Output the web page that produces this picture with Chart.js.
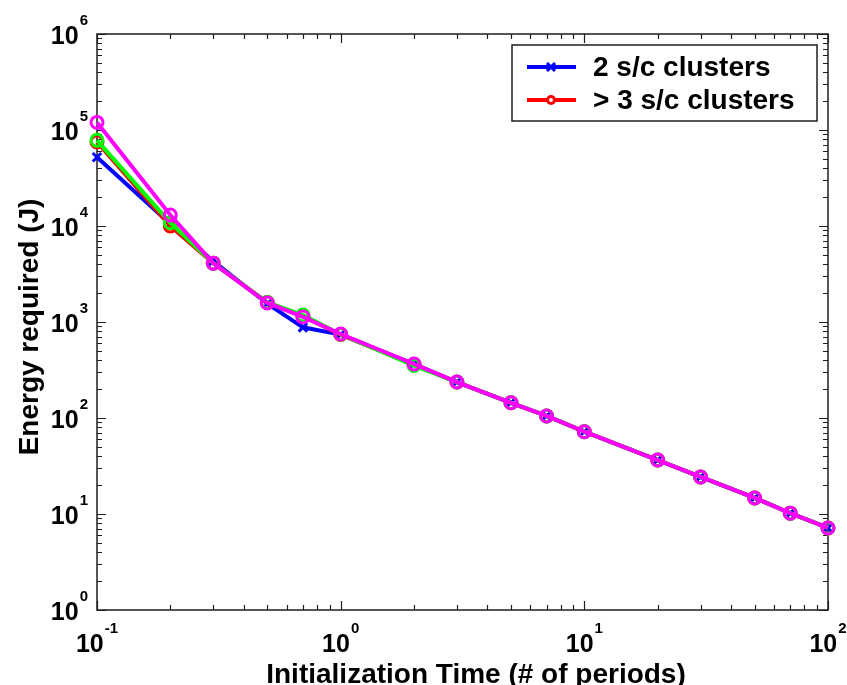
<!DOCTYPE html>
<html>
<head>
<meta charset="utf-8">
<title>Energy vs initialization time</title>
<script src="https://cdn.jsdelivr.net/npm/chart.js@4.4.1/dist/chart.umd.min.js"></script>
<style>
  html, body { margin: 0; padding: 0; background: #fff; }
  #wrap { width: 847px; height: 685px; position: relative; }
</style>
</head>
<body>
<div id="wrap"><canvas id="energyChart"></canvas></div>
<script>
// initialization time in orbital periods
const initTimes = [0.1, 0.2, 0.3, 0.5, 0.7, 1, 2, 3, 5, 7, 10, 20, 30, 50, 70, 100];

// energy required (J) for each cluster configuration
const energyTwoSc = [52000, 10500, 4300, 1550, 880, 740, 365, 237, 144, 105, 72, 36.5, 24.3, 14.7, 10.2, 7.15];
const energyThreeSc = [75000, 10000, 4100, 1600, 1150, 740, 360, 237, 144, 105, 72, 36.5, 24.3, 14.7, 10.2, 7.15];
const energyGreen = [78000, 10800, 4100, 1600, 1180, 745, 352, 237, 144, 105, 72, 36.5, 24.3, 14.7, 10.2, 7.15];
const energyMagenta = [120000, 13000, 4100, 1580, 1130, 750, 365, 237, 144, 105, 72, 36.5, 24.3, 14.7, 10.2, 7.15];

// decade exponents used for the tick labels
const xExponents = [-1, 0, 1, 2];
const yExponents = [0, 1, 2, 3, 4, 5, 6];

const legendLabels = ["2 s/c clusters", "> 3 s/c clusters"];
const xTitle = "Initialization Time (# of periods)";
const yTitle = "Energy required (J)";

const toPoints = (ys) => initTimes.map((t, i) => ({ x: t, y: ys[i] }));

const FONT = "'Liberation Sans', Arial, Helvetica, sans-serif";
const AXIS_COLOR = "#1e1e1e";

// decade ticks (1..9 x 10^e) for a scale
function decadeTicks(exps) {
  const out = [];
  for (let k = 0; k < exps.length; k++) {
    const base = Math.pow(10, exps[k]);
    const last = k === exps.length - 1;
    for (let m = 1; m <= (last ? 1 : 9); m++) {
      out.push({ value: m * base, major: m === 1 });
    }
  }
  return out;
}

function drawPower(ctx, exp, x, y, align) {
  const baseFont = "bold 25px " + FONT;
  const supFont = "bold 15px " + FONT;
  ctx.font = baseFont;
  const wb = ctx.measureText("10").width;
  ctx.font = supFont;
  const sup = String(exp);
  const ws = ctx.measureText(sup).width + 1;
  ctx.textAlign = "left";
  ctx.textBaseline = "alphabetic";
  let left;
  if (align === "center") left = x - (wb + ws) / 2;
  else left = x - (wb + ws);
  ctx.font = baseFont;
  ctx.fillText("10", left, y);
  ctx.font = supFont;
  ctx.fillText(sup, left + wb + 1, y - 19);
}

const axesFrame = {
  id: "axesFrame",
  beforeDatasetsDraw(chart) {
    const { ctx, chartArea: a, scales } = chart;
    ctx.save();
    ctx.strokeStyle = AXIS_COLOR;
    ctx.lineWidth = 1.5;
    ctx.strokeRect(a.left, a.top, a.right - a.left, a.bottom - a.top);

    ctx.lineWidth = 1.2;
    ctx.beginPath();
    decadeTicks(xExponents).forEach((t) => {
      const px = Math.round(scales.x.getPixelForValue(t.value)) + 0.5;
      const len = t.major ? 9 : 5;
      ctx.moveTo(px, a.bottom); ctx.lineTo(px, a.bottom - len);
      ctx.moveTo(px, a.top); ctx.lineTo(px, a.top + len);
    });
    decadeTicks(yExponents).forEach((t) => {
      const py = Math.round(scales.y.getPixelForValue(t.value)) + 0.5;
      const len = t.major ? 9 : 5;
      ctx.moveTo(a.left, py); ctx.lineTo(a.left + len, py);
      ctx.moveTo(a.right, py); ctx.lineTo(a.right - len, py);
    });
    ctx.stroke();
    ctx.restore();
  },
  afterDraw(chart) {
    const { ctx, chartArea: a, scales } = chart;
    ctx.save();
    ctx.fillStyle = "#000";

    // tick labels with superscript exponents
    xExponents.forEach((e) => {
      drawPower(ctx, e, scales.x.getPixelForValue(Math.pow(10, e)), a.bottom + 42, "center");
    });
    yExponents.forEach((e) => {
      drawPower(ctx, e, a.left - 9, scales.y.getPixelForValue(Math.pow(10, e)) + 10, "right");
    });

    // axis titles
    ctx.font = "bold 28px " + FONT;
    ctx.textAlign = "center";
    ctx.textBaseline = "alphabetic";
    ctx.fillText(xTitle, 476, 683);
    ctx.save();
    ctx.translate(38, 327);
    ctx.rotate(-Math.PI / 2);
    ctx.fillText(yTitle, 0, 0);
    ctx.restore();

    // legend box in the upper right
    const box = { left: 512, top: 45, right: 817, bottom: 121 };
    ctx.fillStyle = "#fff";
    ctx.fillRect(box.left, box.top, box.right - box.left, box.bottom - box.top);
    ctx.strokeStyle = AXIS_COLOR;
    ctx.lineWidth = 1.5;
    ctx.strokeRect(box.left, box.top, box.right - box.left, box.bottom - box.top);

    const entries = chart.data.datasets.slice(0, 2);
    entries.forEach((ds, i) => {
      const y = 67 + i * 33;
      ctx.strokeStyle = ds.borderColor;
      ctx.lineWidth = 4;
      ctx.beginPath();
      ctx.moveTo(527, y); ctx.lineTo(576, y);
      ctx.stroke();
      ctx.lineWidth = 3;
      ctx.beginPath();
      if (ds.pointStyle === "crossRot") {
        ctx.moveTo(547, y - 4); ctx.lineTo(555, y + 4);
        ctx.moveTo(555, y - 4); ctx.lineTo(547, y + 4);
        ctx.stroke();
      } else {
        ctx.arc(551, y, 3.5, 0, Math.PI * 2);
        ctx.fillStyle = "#fff";
        ctx.fill();
        ctx.stroke();
      }
      ctx.fillStyle = "#000";
      ctx.font = "bold 28px " + FONT;
      ctx.textAlign = "left";
      ctx.textBaseline = "middle";
      ctx.fillText(legendLabels[i], 593, y + 1);
    });
    ctx.restore();
  }
};

const lineSet = (label, ys, color, style, order) => ({
  label: label,
  data: toPoints(ys),
  borderColor: color,
  backgroundColor: "rgba(0,0,0,0)",
  pointBorderColor: color,
  borderWidth: 4,
  pointStyle: style,
  pointRadius: style === "crossRot" ? 6 : 6,
  pointBorderWidth: 3,
  tension: 0,
  clip: false,
  order: order
});

new Chart(document.getElementById("energyChart"), {
  type: "line",
  data: {
    datasets: [
      lineSet(legendLabels[0], energyTwoSc, "#0000ff", "crossRot", 4),
      lineSet(legendLabels[1], energyThreeSc, "#ff0000", "circle", 3),
      lineSet("", energyGreen, "#00ff00", "circle", 2),
      lineSet("", energyMagenta, "#ff00ff", "circle", 1)
    ]
  },
  options: {
    responsive: true,
    maintainAspectRatio: false,
    animation: false,
    layout: { padding: { left: 97, top: 34, right: 19, bottom: 75 } },
    scales: {
      x: { type: "logarithmic", min: 0.1, max: 100, display: false },
      y: { type: "logarithmic", min: 1, max: 1000000, display: false }
    },
    plugins: {
      legend: { display: false },
      tooltip: { enabled: false }
    }
  },
  plugins: [axesFrame]
});
</script>
</body>
</html>
